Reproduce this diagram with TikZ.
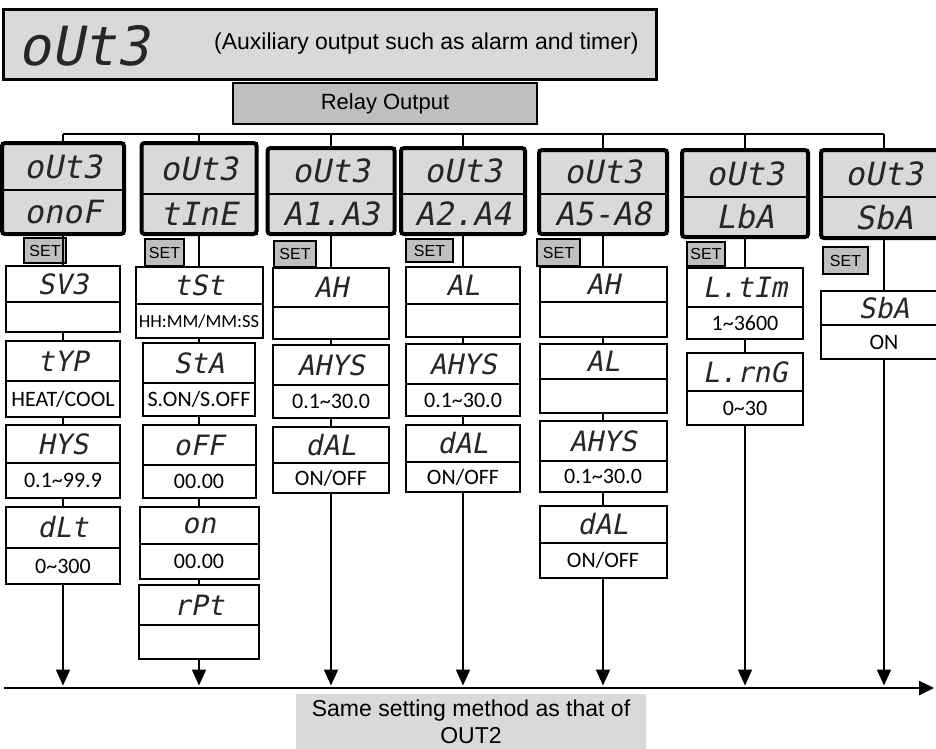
\documentclass[tikz,border=0pt]{standalone}
\usepackage{fontspec}
\setmainfont{Liberation Sans}
\newfontfamily\segfont{DejaVu Sans Mono}[FakeSlant=0.2]
\newfontfamily\valfont{Carlito}
\usepackage{xcolor}
\usetikzlibrary{positioning,arrows.meta,fit}
\definecolor{lcdgray}{HTML}{D9D9D9}
\definecolor{setgray}{HTML}{BFBFBF}
\definecolor{segink}{HTML}{262626}

\begin{document}
\begin{tikzpicture}[
    x=1pt, y=-1pt,
    lcd/.style={draw, line width=2pt, fill=lcdgray, inner sep=0pt, outer sep=0pt, text=segink, font=\segfont\fontsize{32}{32}\selectfont},
    hdframe/.style={draw, line width=4pt, rounded corners=3pt, inner sep=0pt, outer sep=0pt},
    ptop/.style={draw, line width=2pt, fill=white, inner sep=0pt, outer sep=0pt, text=segink, font=\segfont\fontsize{28}{28}\selectfont},
    pbot/.style={draw, line width=2pt, fill=white, inner sep=0pt, outer sep=0pt, font=\valfont\fontsize{22}{22}\selectfont},
    setbox/.style={draw, line width=2pt, fill=setgray, anchor=north west, minimum width=42pt, minimum height=25pt, inner sep=0pt, font=\fontsize{16}{16}\selectfont},
    conn/.style={line width=2pt},
    arr/.style={line width=2pt, -{Triangle[length=16pt,width=14pt]}, shorten >=2.5pt}
]
    \useasboundingbox (0,0) rectangle (936,748);

    % Title bar
    \node[draw, line width=2.5pt, fill=lcdgray, anchor=north west, minimum width=653pt, minimum height=70pt, inner sep=0pt] (title) at (2,8) {};
    \node[text=segink, font=\segfont\fontsize{54}{54}\selectfont, inner sep=0pt] (tseg) at (84,46) {oUt3};
    \node[anchor=west, font=\fontsize{23}{23}\selectfont, inner sep=0pt] (tnote) at (214,44) {(Auxiliary output such as alarm and timer)};

    \node[draw, line width=2.5pt, fill=setgray, minimum width=304pt, minimum height=41pt, font=\fontsize{22}{22}\selectfont] (relay) at (385,103.5) {Relay Output};

    % Mode headers
    \node[lcd, minimum width=122pt, minimum height=47pt, anchor=north] (h1a) at (63,143) {oUt3};
    \node[lcd, minimum width=122pt, minimum height=44pt, below=0pt of h1a] (h1b) {onoF};
    \node[hdframe, fit=(h1a)(h1b)] (h1) {};

    \node[lcd, minimum width=115pt, minimum height=51pt, anchor=north] (h2a) at (199,143) {oUt3};
    \node[lcd, minimum width=115pt, minimum height=40pt, below=0pt of h2a] (h2b) {tInE};
    \node[hdframe, fit=(h2a)(h2b)] (h2) {};

    \node[lcd, minimum width=127pt, minimum height=46pt, anchor=north] (h3a) at (331,148) {oUt3};
    \node[lcd, minimum width=127pt, minimum height=40pt, below=0pt of h3a] (h3b) {A1.A3};
    \node[hdframe, fit=(h3a)(h3b)] (h3) {};

    \node[lcd, minimum width=124pt, minimum height=46pt, anchor=north] (h4a) at (463,148) {oUt3};
    \node[lcd, minimum width=124pt, minimum height=40pt, below=0pt of h4a] (h4b) {A2.A4};
    \node[hdframe, fit=(h4a)(h4b)] (h4) {};

    \node[lcd, minimum width=128pt, minimum height=44pt, anchor=north] (h5a) at (603,150) {oUt3};
    \node[lcd, minimum width=128pt, minimum height=40pt, below=0pt of h5a] (h5b) {A5-A8};
    \node[hdframe, fit=(h5a)(h5b)] (h5) {};

    \node[lcd, minimum width=126pt, minimum height=47pt, anchor=north] (h6a) at (745,150) {oUt3};
    \node[lcd, minimum width=126pt, minimum height=40pt, below=0pt of h6a] (h6b) {LbA};
    \node[hdframe, fit=(h6a)(h6b)] (h6) {};

    \node[lcd, minimum width=126pt, minimum height=47pt, anchor=north] (h7a) at (884,150) {oUt3};
    \node[lcd, minimum width=126pt, minimum height=41pt, below=0pt of h7a] (h7b) {SbA};
    \node[hdframe, fit=(h7a)(h7b)] (h7) {};

    % SET keys
    \node[setbox] (set1) at (23,237) {SET};
    \node[setbox, minimum width=39pt, minimum height=27pt] (set2) at (144,238) {SET};
    \node[setbox, minimum height=26pt] (set3) at (273,240) {SET};
    \node[setbox, minimum width=47pt, minimum height=23pt] (set4) at (405,238) {SET};
    \node[setbox, minimum width=43pt, minimum height=27pt] (set5) at (536,238) {SET};
    \node[setbox, minimum width=38pt, minimum height=24pt] (set6) at (686,241) {SET};
    \node[setbox, minimum width=45pt, minimum height=27pt] (set7) at (822,246) {SET};

    % ON/OFF parameters
    \node[ptop, minimum width=114pt, minimum height=36pt, anchor=north] (p1a) at (63,266) {SV3};
    \node[pbot, minimum width=114pt, minimum height=30pt, below=0pt of p1a] (p1b) {};
    \node[ptop, minimum width=114pt, minimum height=40pt, below=9pt of p1b] (p2a) {tYP};
    \node[pbot, minimum width=114pt, minimum height=36pt, below=0pt of p2a] (p2b) {HEAT/COOL};
    \node[ptop, minimum width=114pt, minimum height=38pt, below=8pt of p2b] (p3a) {HYS};
    \node[pbot, minimum width=114pt, minimum height=35pt, below=0pt of p3a] (p3b) {0.1\textasciitilde99.9};
    \node[ptop, minimum width=114pt, minimum height=41pt, below=9pt of p3b] (p4a) {dLt};
    \node[pbot, minimum width=114pt, minimum height=36pt, below=0pt of p4a] (p4b) {0\textasciitilde300};

    % TIME parameters
    \node[ptop, minimum width=127pt, minimum height=37pt, anchor=north] (q1a) at (199,267) {tSt};
    \node[pbot, minimum width=127pt, minimum height=34pt, below=0pt of q1a, font=\valfont\fontsize{18.5}{18.5}\selectfont] (q1b) {HH:MM/MM:SS};
    \node[ptop, minimum width=112pt, minimum height=40pt, below=5pt of q1b] (q2a) {StA};
    \node[pbot, minimum width=112pt, minimum height=33pt, below=0pt of q2a] (q2b) {S.ON/S.OFF};
    \node[ptop, minimum width=113pt, minimum height=40pt, below=9pt of q2b] (q3a) {oFF};
    \node[pbot, minimum width=113pt, minimum height=33pt, below=0pt of q3a] (q3b) {00.00};
    \node[ptop, minimum width=119pt, minimum height=37pt, below=9pt of q3b] (q4a) {on};
    \node[pbot, minimum width=119pt, minimum height=35pt, below=0pt of q4a] (q4b) {00.00};
    \node[ptop, minimum width=120pt, minimum height=40pt, below=6pt of q4b] (q5a) {rPt};
    \node[pbot, minimum width=120pt, minimum height=34pt, below=0pt of q5a] (q5b) {};

    % A1.A3 parameters
    \node[ptop, minimum width=116pt, minimum height=39pt, anchor=north] (r1a) at (331,268) {AH};
    \node[pbot, minimum width=116pt, minimum height=32pt, below=0pt of r1a] (r1b) {};
    \node[ptop, minimum width=116pt, minimum height=40pt, below=6pt of r1b] (r2a) {AHYS};
    \node[pbot, minimum width=116pt, minimum height=33pt, below=0pt of r2a] (r2b) {0.1\textasciitilde30.0};
    \node[ptop, minimum width=116pt, minimum height=36pt, below=9pt of r2b] (r3a) {dAL};
    \node[pbot, minimum width=116pt, minimum height=30pt, below=0pt of r3a] (r3b) {ON/OFF};

    % A2.A4 parameters
    \node[ptop, minimum width=114pt, minimum height=37pt, anchor=north] (s1a) at (463,267) {AL};
    \node[pbot, minimum width=114pt, minimum height=33pt, below=0pt of s1a] (s1b) {};
    \node[ptop, minimum width=114pt, minimum height=40pt, below=7pt of s1b] (s2a) {AHYS};
    \node[pbot, minimum width=114pt, minimum height=32pt, below=0pt of s2a] (s2b) {0.1\textasciitilde30.0};
    \node[ptop, minimum width=114pt, minimum height=37pt, below=9pt of s2b] (s3a) {dAL};
    \node[pbot, minimum width=114pt, minimum height=30pt, below=0pt of s3a] (s3b) {ON/OFF};

    % A5-A8 parameters
    \node[ptop, minimum width=127pt, minimum height=35pt, anchor=north] (t1a) at (603,267) {AH};
    \node[pbot, minimum width=127pt, minimum height=35pt, below=0pt of t1a] (t1b) {};
    \node[ptop, minimum width=127pt, minimum height=35pt, below=7pt of t1b] (t2a) {AL};
    \node[pbot, minimum width=127pt, minimum height=34pt, below=0pt of t2a] (t2b) {};
    \node[ptop, minimum width=127pt, minimum height=40pt, below=8pt of t2b] (t3a) {AHYS};
    \node[pbot, minimum width=127pt, minimum height=31pt, below=0pt of t3a] (t3b) {0.1\textasciitilde30.0};
    \node[ptop, minimum width=127pt, minimum height=37pt, below=14pt of t3b] (t4a) {dAL};
    \node[pbot, minimum width=127pt, minimum height=35pt, below=0pt of t4a] (t4b) {ON/OFF};

    % LBA parameters
    \node[ptop, minimum width=116pt, minimum height=39pt, anchor=north] (u1a) at (745,268) {L.tIm};
    \node[pbot, minimum width=116pt, minimum height=32pt, below=0pt of u1a] (u1b) {1\textasciitilde3600};
    \node[ptop, minimum width=116pt, minimum height=38pt, below=14pt of u1b] (u2a) {L.rnG};
    \node[pbot, minimum width=116pt, minimum height=34pt, below=0pt of u2a] (u2b) {0\textasciitilde30};

    % SBA parameter
    \node[ptop, minimum width=126pt, minimum height=34pt, anchor=north] (v1a) at (884,291) {SbA};
    \node[pbot, minimum width=126pt, minimum height=34pt, below=0pt of v1a] (v1b) {ON};

    % Bus and axis
    \coordinate (busL) at (63,134);
    \coordinate (axisL) at (4,688);
    \coordinate (axisR) at (934,688);
    \draw[conn] (h1 |- busL) -- (h7 |- busL);
    \draw[conn] (h1) -- (h1 |- busL);
    \draw[conn] (h2) -- (h2 |- busL);
    \draw[conn] (h3) -- (h3 |- busL);
    \draw[conn] (h4) -- (h4 |- busL);
    \draw[conn] (h5) -- (h5 |- busL);
    \draw[conn] (h6) -- (h6 |- busL);
    \draw[conn] (h7) -- (h7 |- busL);
    \draw[line width=2.5pt, -{Triangle[length=15pt,width=14pt]}] (axisL) -- (axisR);

    % Column links
    \draw[conn] (h1) -- (p1a);
    \draw[conn] (p1b) -- (p2a);
    \draw[conn] (p2b) -- (p3a);
    \draw[conn] (p3b) -- (p4a);
    \draw[arr] (p4b) -- (p4b |- axisL);

    \draw[conn] (h2) -- (q1a);
    \draw[conn] (q1b) -- (q2a);
    \draw[conn] (q2b) -- (q3a);
    \draw[conn] (q3b) -- (q4a);
    \draw[conn] (q4b) -- (q5a);
    \draw[arr] (q5b) -- (q5b |- axisL);

    \draw[conn] (h3) -- (r1a);
    \draw[conn] (r1b) -- (r2a);
    \draw[conn] (r2b) -- (r3a);
    \draw[arr] (r3b) -- (r3b |- axisL);

    \draw[conn] (h4) -- (s1a);
    \draw[conn] (s1b) -- (s2a);
    \draw[conn] (s2b) -- (s3a);
    \draw[arr] (s3b) -- (s3b |- axisL);

    \draw[conn] (h5) -- (t1a);
    \draw[conn] (t1b) -- (t2a);
    \draw[conn] (t2b) -- (t3a);
    \draw[conn] (t3b) -- (t4a);
    \draw[arr] (t4b) -- (t4b |- axisL);

    \draw[conn] (h6) -- (u1a);
    \draw[conn] (u1b) -- (u2a);
    \draw[arr] (u2b) -- (u2b |- axisL);

    \draw[conn] (h7) -- (v1a);
    \draw[arr] (v1b) -- (v1b |- axisL);

    \node[fill=lcdgray, minimum width=350pt, minimum height=56pt, align=center, font=\fontsize{23}{27}\selectfont] (same) at (471,722) {Same setting method as that of\\OUT2};
\end{tikzpicture}
\end{document}
